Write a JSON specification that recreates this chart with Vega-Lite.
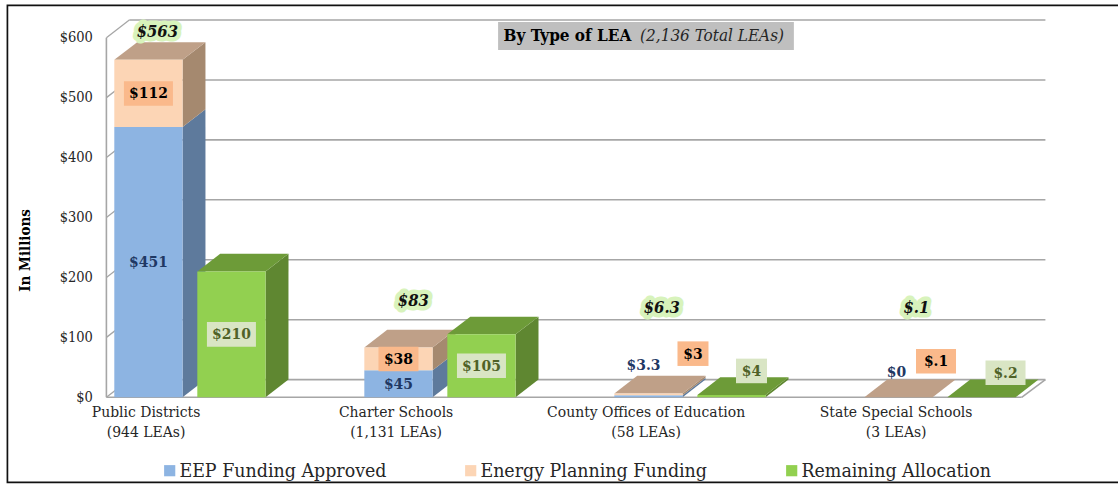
{
"$schema":"https://vega.github.io/schema/vega-lite/v6.json",
"autosize":{"type":"none"},
"padding":{"left":106.4,"top":20,"right":72.6,"bottom":86.7},
"width":939,"height":377.3,
"background":"white",
"config":{"view":{"stroke":null},"text":{"font":"DejaVu Serif Condensed"}},
"datasets":{
"bars":[
{"lea":"Public Districts","series":"EEP Funding Approved","value":451,"label":"$451"},
{"lea":"Public Districts","series":"Energy Planning Funding","value":112,"label":"$112"},
{"lea":"Public Districts","series":"Remaining Allocation","value":210,"label":"$210"},
{"lea":"Charter Schools","series":"EEP Funding Approved","value":45,"label":"$45"},
{"lea":"Charter Schools","series":"Energy Planning Funding","value":38,"label":"$38"},
{"lea":"Charter Schools","series":"Remaining Allocation","value":105,"label":"$105"},
{"lea":"County Offices of Education","series":"EEP Funding Approved","value":3.3,"label":"$3.3"},
{"lea":"County Offices of Education","series":"Energy Planning Funding","value":3,"label":"$3"},
{"lea":"County Offices of Education","series":"Remaining Allocation","value":4,"label":"$4"},
{"lea":"State Special Schools","series":"EEP Funding Approved","value":0,"label":"$0"},
{"lea":"State Special Schools","series":"Energy Planning Funding","value":0.1,"label":"$.1"},
{"lea":"State Special Schools","series":"Remaining Allocation","value":0.2,"label":"$.2"}
],
"totals":[
{"lea":"Public Districts","total":563,"label":"$563"},
{"lea":"Charter Schools","total":83,"label":"$83"},
{"lea":"County Offices of Education","total":6.3,"label":"$6.3"},
{"lea":"State Special Schools","total":0.1,"label":"$.1"}
],
"ticks":[{"tick":0},{"tick":100},{"tick":200},{"tick":300},{"tick":400},{"tick":500},{"tick":600}]
},
"encoding":{
"x":{"type":"quantitative","scale":{"domain":[-0.0316,3.724],"nice":false,"zero":false}},
"y":{"type":"quantitative","scale":{"domain":[0,629.5],"nice":false,"zero":false}}
},
"layer":[
{"data":{"name":"ticks"},"transform":[{"calculate":"datum.tick+29.5","as":"back"}],
"layer":[
{"mark":{"type":"rule","color":"#A6A6A6","strokeWidth":1.6},
"encoding":{"x":{"datum":0.06,"type":"quantitative"},"x2":{"datum":3.724},"y":{"field":"back","type":"quantitative",
"axis":{"values":[0,100,200,300,400,500,600],"format":"$d","domain":false,"ticks":false,"grid":false,"labelPadding":14,"labelFont":"DejaVu Serif Condensed","labelFontSize":14.5,"labelColor":"#262626","title":"In Millions","titleFont":"DejaVu Serif Condensed","titleFontSize":15,"titleFontWeight":"bold","titleColor":"black","titleX":-74,"titleY":230}}}},
{"mark":{"type":"rule","color":"#A6A6A6","strokeWidth":1.3},
"encoding":{"x":{"datum":-0.0316,"type":"quantitative"},"x2":{"datum":0.06},"y":{"field":"tick","type":"quantitative"},"y2":{"field":"back"}}}
]},
{"data":{"values":[{}]},
"layer":[
{"mark":{"type":"rule","color":"#A6A6A6","strokeWidth":1.6},"encoding":{"x":{"datum":-0.0316,"type":"quantitative"},"y":{"datum":0,"type":"quantitative"},"y2":{"datum":600}}},
{"mark":{"type":"rule","color":"#A6A6A6","strokeWidth":1.6},"encoding":{"x":{"datum":-0.0316,"type":"quantitative"},"x2":{"datum":3.629},"y":{"datum":0,"type":"quantitative"}}},
{"mark":{"type":"rule","color":"#A6A6A6","strokeWidth":1.6},"encoding":{"x":{"datum":3.629,"type":"quantitative"},"x2":{"datum":3.724},"y":{"datum":0,"type":"quantitative"},"y2":{"datum":29.5}}},
{"mark":{"type":"rect","fill":null,"stroke":"#111111","strokeWidth":1.7},"encoding":{"x":{"datum":-0.4275,"type":"quantitative"},"x2":{"datum":4.1},"y":{"datum":654,"type":"quantitative"},"y2":{"datum":-142}}},
{"mark":{"type":"rect","color":"#BFBFBF"},"encoding":{"x":{"datum":1.535,"type":"quantitative"},"x2":{"datum":2.718},"y":{"datum":626,"type":"quantitative"},"y2":{"datum":579.6}}},
{"mark":{"type":"text","align":"left","baseline":"middle","font":"DejaVu Serif Condensed","fontSize":17,"fontWeight":"bold","color":"black"},"encoding":{"x":{"datum":1.557,"type":"quantitative"},"y":{"datum":603,"type":"quantitative"},"text":{"value":"By Type of LEA"}}},
{"mark":{"type":"text","align":"left","baseline":"middle","font":"DejaVu Serif Condensed","fontSize":17,"fontStyle":"italic","color":"#262626"},"encoding":{"x":{"datum":2.103,"type":"quantitative"},"y":{"datum":603,"type":"quantitative"},"text":{"value":"(2,136 Total LEAs)"}}}
]},
{"data":{"name":"bars"},
"transform":[
{"calculate":"indexof(['Public Districts','Charter Schools','County Offices of Education','State Special Schools'],datum.lea)","as":"slot"},
{"calculate":"datum.series==='Remaining Allocation'?'R':'S'","as":"side"},
{"calculate":"datum.lea+datum.side","as":"stackKey"},
{"stack":"value","groupby":["stackKey"],"sort":[{"field":"series","order":"ascending"}],"as":["y0","y1"]},
{"calculate":"datum.slot+(datum.side==='R'?0.332:0)","as":"left"},
{"calculate":"datum.left+0.273","as":"right"},
{"calculate":"[0,1]","as":"corner"},
{"flatten":["corner"]},
{"calculate":"datum.right+datum.corner*0.0916","as":"sideX"},
{"calculate":"datum.left+datum.corner*0.0916","as":"topL"},
{"calculate":"datum.right+datum.corner*0.0916","as":"topR"},
{"calculate":"datum.y1+datum.corner*29.5","as":"up1"},
{"calculate":"datum.y0+datum.corner*29.5","as":"up0"}
],
"layer":[
{"transform":[{"filter":"datum.series==='EEP Funding Approved'"}],"mark":{"type":"area","orient":"vertical","color":"#5E7A9C","opacity":1},"encoding":{"x":{"field":"sideX","type":"quantitative"},"y":{"field":"up1","type":"quantitative"},"y2":{"field":"up0"},"detail":{"field":"lea"}}},
{"transform":[{"filter":"datum.series==='Energy Planning Funding'"}],"mark":{"type":"area","orient":"vertical","color":"#A5896F","opacity":1},"encoding":{"x":{"field":"sideX","type":"quantitative"},"y":{"field":"up1","type":"quantitative"},"y2":{"field":"up0"},"detail":{"field":"lea"}}},
{"transform":[{"filter":"datum.series==='Energy Planning Funding'"}],"mark":{"type":"area","orient":"horizontal","color":"#BFA088","opacity":1},"encoding":{"y":{"field":"up1","type":"quantitative"},"x":{"field":"topL","type":"quantitative"},"x2":{"field":"topR"},"detail":{"field":"lea"}}},
{"transform":[{"filter":"datum.corner===0 && datum.side==='S'"}],"mark":{"type":"rect"},"encoding":{"x":{"field":"left","type":"quantitative"},"x2":{"field":"right"},"y":{"field":"y0","type":"quantitative"},"y2":{"field":"y1"},
"color":{"field":"series","type":"nominal","scale":{"domain":["EEP Funding Approved","Energy Planning Funding","Remaining Allocation"],"range":["#8DB4E2","#FCD5B5","#92D050"]},
"legend":{"title":null,"orient":"none","legendX":53.6,"legendY":441,"direction":"horizontal","columns":3,"gridAlign":"none","columnPadding":74,"symbolType":"square","symbolSize":125,"symbolStrokeWidth":0,"labelFont":"DejaVu Serif Condensed","labelFontSize":19.4,"labelColor":"#262626","labelOffset":0,"labelLimit":400,"padding":0}}}},
{"transform":[{"filter":"datum.series==='Remaining Allocation'"}],"mark":{"type":"area","orient":"vertical","color":"#5F8731","opacity":1},"encoding":{"x":{"field":"sideX","type":"quantitative"},"y":{"field":"up1","type":"quantitative"},"y2":{"field":"up0"},"detail":{"field":"lea"}}},
{"transform":[{"filter":"datum.series==='Remaining Allocation'"}],"mark":{"type":"area","orient":"horizontal","color":"#6D9B38","opacity":1},"encoding":{"y":{"field":"up1","type":"quantitative"},"x":{"field":"topL","type":"quantitative"},"x2":{"field":"topR"},"detail":{"field":"lea"}}},
{"transform":[{"filter":"datum.corner===0 && datum.side==='R'"}],"mark":{"type":"rect"},"encoding":{"x":{"field":"left","type":"quantitative"},"x2":{"field":"right"},"y":{"field":"y0","type":"quantitative"},"y2":{"field":"y1"},"color":{"field":"series","type":"nominal"}}},
{"transform":[
{"filter":"datum.corner===0"},
{"calculate":"({'$3.3':-0.02,'$3':0.178,'$4':0.08,'$0':-0.008,'$.1':0.15,'$.2':0.096})[datum.label]||0","as":"nudgeX"},
{"calculate":"({'$3.3':52,'$3':68,'$4':42,'$0':43,'$.1':60,'$.2':41})[datum.label]||0","as":"lift"},
{"calculate":"(datum.left+datum.right)/2+datum.nudgeX","as":"labelX"},
{"calculate":"(datum.y0+datum.y1)/2+datum.lift","as":"labelY"},
{"calculate":"(6.5+4.5*length(datum.label))/250","as":"halfW"},
{"calculate":"datum.labelX-datum.halfW","as":"boxL"},
{"calculate":"datum.labelX+datum.halfW","as":"boxR"},
{"calculate":"datum.labelY-20.5","as":"boxB"},
{"calculate":"datum.labelY+20.5","as":"boxT"}
],
"layer":[
{"transform":[{"filter":"datum.series==='Energy Planning Funding'"}],"mark":{"type":"rect","color":"#FAB98B"},"encoding":{"x":{"field":"boxL","type":"quantitative"},"x2":{"field":"boxR"},"y":{"field":"boxB","type":"quantitative"},"y2":{"field":"boxT"}}},
{"transform":[{"filter":"datum.series==='Remaining Allocation'"}],"mark":{"type":"rect","color":"#D9E5C4"},"encoding":{"x":{"field":"boxL","type":"quantitative"},"x2":{"field":"boxR"},"y":{"field":"boxB","type":"quantitative"},"y2":{"field":"boxT"}}},
{"transform":[{"filter":"datum.series==='EEP Funding Approved'"}],"mark":{"type":"text","font":"DejaVu Serif Condensed","fontSize":15.5,"color":"#1F3864","fontWeight":"bold","baseline":"middle"},"encoding":{"x":{"field":"labelX","type":"quantitative"},"y":{"field":"labelY","type":"quantitative"},"text":{"field":"label"}}},
{"transform":[{"filter":"datum.series==='Energy Planning Funding'"}],"mark":{"type":"text","font":"DejaVu Serif Condensed","fontSize":15.5,"color":"black","fontWeight":"bold","baseline":"middle"},"encoding":{"x":{"field":"labelX","type":"quantitative"},"y":{"field":"labelY","type":"quantitative"},"text":{"field":"label"}}},
{"transform":[{"filter":"datum.series==='Remaining Allocation'"}],"mark":{"type":"text","font":"DejaVu Serif Condensed","fontSize":15.5,"color":"#4F6228","fontWeight":"bold","baseline":"middle"},"encoding":{"x":{"field":"labelX","type":"quantitative"},"y":{"field":"labelY","type":"quantitative"},"text":{"field":"label"}}}
]}
]},
{"data":{"name":"totals"},
"transform":[
{"calculate":"indexof(['Public Districts','Charter Schools','County Offices of Education','State Special Schools'],datum.lea)","as":"slot"},
{"calculate":"datum.slot+({'$563':0.172,'$83':0.196,'$6.3':0.19,'$.1':0.208})[datum.label]","as":"labelX"},
{"calculate":"datum.total+({'$563':47,'$83':78,'$6.3':143,'$.1':149})[datum.label]","as":"labelY"}
],
"layer":[
{"mark":{"type":"text","font":"DejaVu Serif Condensed","fontSize":16.5,"fontWeight":"bold","fontStyle":"italic","baseline":"middle","stroke":"#D8F3BC","strokeWidth":9,"strokeJoin":"round","color":"#D8F3BC"},"encoding":{"x":{"field":"labelX","type":"quantitative"},"y":{"field":"labelY","type":"quantitative"},"text":{"field":"label"}}},
{"mark":{"type":"text","font":"DejaVu Serif Condensed","fontSize":16.5,"fontWeight":"bold","fontStyle":"italic","baseline":"middle","color":"#111111"},"encoding":{"x":{"field":"labelX","type":"quantitative"},"y":{"field":"labelY","type":"quantitative"},"text":{"field":"label"}}}
]},
{"data":{"values":[{"at":0.125},{"at":1.125},{"at":2.125},{"at":3.125}]},
"mark":{"type":"point","opacity":0},
"encoding":{"x":{"field":"at","type":"quantitative",
"axis":{"orient":"bottom","values":[0.125,1.125,2.125,3.125],"domain":false,"ticks":false,"grid":false,"title":null,"labelPadding":7.5,"labelFont":"DejaVu Serif Condensed","labelFontSize":15.5,"labelColor":"#262626","labelLineHeight":19.5,"labelBaseline":"top","labelAlign":"center","labelLimit":300,"labelExpr":"[['Public Districts','(944 LEAs)'],['Charter Schools','(1,131 LEAs)'],['County Offices of Education','(58 LEAs)'],['State Special Schools','(3 LEAs)']][floor(datum.value)]"}},
"y":{"datum":0,"type":"quantitative"}}}
]
}
